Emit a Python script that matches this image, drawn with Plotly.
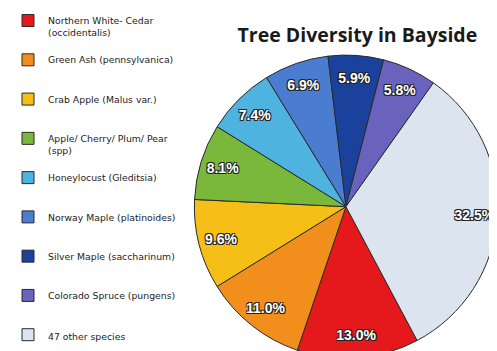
import plotly.graph_objects as go

species = [
    "Northern White- Cedar<br>(occidentalis)",
    "Green Ash (pennsylvanica)",
    "Crab Apple (Malus var.)",
    "Apple/ Cherry/ Plum/ Pear<br>(spp)",
    "Honeylocust (Gleditsia)",
    "Norway Maple (platinoides)",
    "Silver Maple (saccharinum)",
    "Colorado Spruce (pungens)",
    "47 other species",
]
shares = [13.0, 11.0, 9.6, 8.1, 7.4, 6.9, 5.9, 5.8, 32.5]
colors = ["#e5191b", "#f28f1c", "#f5bf17", "#79b83a", "#4fb3df",
          "#4a7ccf", "#1a429c", "#6a63bd", "#dce4f0"]

# pad legend labels to three lines for spacing (except the last one)
labels = []
for i, s in enumerate(species):
    n = s.count("<br>") + 1
    target = 3 if i < len(species) - 1 else n
    labels.append(s + "<br> " * (target - n))

outline = "1px 1px 0 #222, -1px -1px 0 #222, 1px -1px 0 #222, -1px 1px 0 #222"
dom = dict(x=[0.375, 0.985], y=[0.0, 0.868])

fig = go.Figure()
fig.add_trace(go.Pie(
    labels=labels,
    values=shares,
    sort=False,
    direction="clockwise",
    rotation=152,
    marker=dict(colors=colors, line=dict(color="#2a2a2a", width=1)),
    textinfo="none",
    domain=dom,
    hoverinfo="label+value",
))
fig.add_trace(go.Pie(
    labels=labels,
    values=shares,
    sort=False,
    direction="clockwise",
    rotation=152,
    hole=0.7,
    showlegend=False,
    marker=dict(colors=["rgba(0,0,0,0)"] * len(shares), line=dict(width=0)),
    texttemplate="%{value:.1f}%",
    textposition="inside",
    insidetextorientation="horizontal",
    textfont=dict(family="Arial, Liberation Sans", size=14, color="white",
                  weight="bold", shadow=outline),
    domain=dom,
    hoverinfo="skip",
))

fig.update_layout(
    width=497, height=351,
    margin=dict(l=0, r=0, t=0, b=0),
    paper_bgcolor="white",
    plot_bgcolor="white",
    title=dict(text="<b>Tree Diversity in Bayside</b>", x=0.703, xanchor="center",
               y=0.923, yanchor="middle",
               font=dict(family="Open Sans", size=19.5, color="#1a1a1a")),
    legend=dict(x=0.0, y=1.0, xanchor="left", yanchor="top",
                font=dict(family="DejaVu Sans", size=9.3, color="#222"),
                valign="top", itemwidth=30,
                bgcolor="rgba(0,0,0,0)"),
    showlegend=True,
)

fig.write_html("out.html")
